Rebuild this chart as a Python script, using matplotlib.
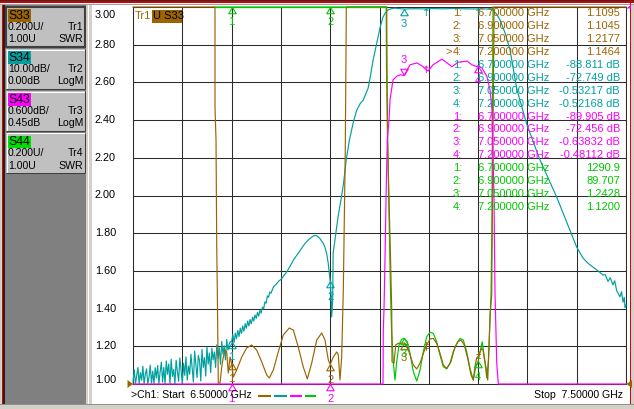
import numpy as np
import matplotlib
matplotlib.use("Agg")
import matplotlib.pyplot as plt
from matplotlib.patches import Rectangle, Polygon
from matplotlib.lines import Line2D
from matplotlib.path import Path
from matplotlib.markers import MarkerStyle

plt.rcParams['font.family'] = ['Liberation Sans', 'DejaVu Sans']

# ---------------- data ----------------
start_ghz, stop_ghz = 6.5, 7.5
swr_tick_values = [3.00, 2.80, 2.60, 2.40, 2.20, 2.00, 1.80, 1.60, 1.40, 1.20, 1.00]

trace_names = ["S33", "S34", "S43", "S44"]
trace_ids = ["Tr1", "Tr2", "Tr3", "Tr4"]
trace_formats = ["SWR", "LogM", "LogM", "SWR"]
scale_labels = ["0.200U/", "10.00dB/", "0.600dB/", "0.200U/"]
ref_labels = ["1.00U", "0.00dB", "0.45dB", "1.00U"]
per_div = [0.2, 10.0, 0.6, 0.2]
ref_value = [1.00, 0.00, 0.45, 1.00]
ref_pos_div = [0, 10, 10, 0]

# S33 (SWR)
s33_freq = [6.5000, 6.6663, 6.6663, 6.6684, 6.6690, 6.6698, 6.6710, 6.6730, 6.6765, 6.6800,
            6.6832, 6.6866, 6.6900, 6.6933, 6.6968, 6.7000, 6.7035, 6.7103, 6.7205, 6.7306,
            6.7408, 6.7509, 6.7611, 6.7712, 6.7765, 6.7846, 6.7947, 6.8049, 6.8171, 6.8252,
            6.8353, 6.8454, 6.8536, 6.8625, 6.8726, 6.8828, 6.8895, 6.8962, 6.9000, 6.9063,
            6.9132, 6.9164, 6.9199, 6.9233, 6.9266, 6.9286, 6.9306, 6.9327, 7.0146, 7.0162,
            7.0193, 7.0223, 7.0248, 7.0254, 7.0294, 7.0329, 7.0381, 7.0436, 7.0500, 7.0552,
            7.0619, 7.0686, 7.0755, 7.0822, 7.0889, 7.0958, 7.1024, 7.1091, 7.1160, 7.1227,
            7.1294, 7.1363, 7.1430, 7.1497, 7.1586, 7.1653, 7.1720, 7.1789, 7.1856, 7.1903,
            7.1937, 7.1972, 7.2000, 7.2073, 7.2100, 7.2126, 7.2175, 7.2195, 7.2221, 7.2242,
            7.2276, 7.2308, 7.2323, 7.5000]
s33_swr = [40, 40, 2.469, 2.294, 2.056, 1.737, 1.499, 1.005, 1.005, 1.090,
           1.143, 1.180, 1.170, 1.058, 1.143, 1.1095, 1.037, 1.074, 1.143, 1.191,
           1.207, 1.180, 1.117, 1.048, 1.032, 1.074, 1.170, 1.260, 1.297, 1.286,
           1.196, 1.090, 1.027, 1.111, 1.233, 1.271, 1.233, 1.127, 1.1045, 1.143,
           1.170, 1.154, 1.021, 1.143, 1.499, 1.870, 2.241, 40, 40, 2.294,
           1.976, 1.674, 1.393, 1.117, 1.110, 1.207, 1.216, 1.216, 1.2177, 1.207,
           1.154, 1.101, 1.080, 1.110, 1.163, 1.207, 1.239, 1.242, 1.216, 1.163,
           1.101, 1.083, 1.110, 1.171, 1.224, 1.233, 1.207, 1.136, 1.048, 1.021,
           1.092, 1.140, 1.1464, 1.190, 1.180, 1.136, 1.065, 1.021, 1.189, 1.366,
           1.472, 2.5, 40, 40]

# S44 (SWR)
s44_freq = [6.6663, 6.7000, 6.9000, 7.0136, 7.0142, 7.0166, 7.0223, 7.0244, 7.0280, 7.0314,
            7.0349, 7.0396, 7.0450, 7.0500, 7.0564, 7.0619, 7.0686, 7.0755, 7.0822, 7.0889,
            7.0958, 7.1024, 7.1091, 7.1160, 7.1227, 7.1294, 7.1363, 7.1450, 7.1531, 7.1633,
            7.1700, 7.1769, 7.1836, 7.1903, 7.1952, 7.2000, 7.2083, 7.2140, 7.2175, 7.2207,
            7.2242, 7.2262, 7.2282, 7.2302]
s44_swr = [1290.0, 1290.9, 89.707, 40, 2.676, 2.294, 1.488, 1.286, 1.118, 1.021,
           1.118, 1.207, 1.237, 1.2428, 1.224, 1.163, 1.065, 1.016, 1.074, 1.171,
           1.251, 1.274, 1.269, 1.224, 1.154, 1.092, 1.080, 1.118, 1.198, 1.242,
           1.233, 1.171, 1.083, 1.021, 1.092, 1.1200, 1.224, 1.118, 1.032, 1.118,
           1.339, 1.472, 1.9, 40]

# S34 (dB) - noisy floor sampled every 2.5 MHz from 6.5 GHz, then explicit points
s34_noise_start = 6.5
s34_noise_step = 0.0025
s34_noise_db = [-99.5, -96.2, -100.5, -97.8, -95.6, -101, -97.0, -99, -95.3, -100.2,
                -97.4, -96.0, -101, -98.2, -95.0, -99.8, -96.6, -100.4, -95.7, -98.4,
                -95.1, -100.6,
                -96.8, -94.2, -99.5, -95.6, -100.3, -93.9, -97.4, -94.7, -99.9, -93.4,
                -98.0, -96.1, -100.1, -93.7, -96.7, -99.3, -93.1, -96.3, -100.2, -94.5,
                -97.7, -92.8, -99.0, -95.2,
                -97.4, -92.1, -95.9, -99.5, -91.3, -94.8, -98.3, -92.4, -93.9, -99.2,
                -90.8, -95.6, -93.0, -97.9, -90.2, -94.7, -91.8, -97.0, -90.5, -93.6,
                -91.5, -95.6, -89.6, -93.2, -90.4, -94.8, -88.7, -92.1, -89.9, -93.6,
                -88.2, -91.0, -89.4, -88.8]
s34_freq = [6.7000, 6.7025, 6.7050, 6.7075, 6.7100, 6.7125, 6.7150, 6.7175, 6.7200, 6.7225,
            6.7250, 6.7275, 6.7300, 6.7325, 6.7350, 6.7375, 6.7400, 6.7425, 6.7450, 6.7475,
            6.7500, 6.7525, 6.7550, 6.7575, 6.7600, 6.7625, 6.7650, 6.7675, 6.7700, 6.7725,
            6.7750, 6.7775, 6.7800, 6.7850, 6.7900, 6.7950, 6.8020, 6.8060, 6.8100, 6.8140,
            6.8180, 6.8260, 6.8350, 6.8420, 6.8490, 6.8570, 6.8660, 6.8720, 6.8790, 6.8850,
            6.8890, 6.8930, 6.8960, 6.9000, 6.9020, 6.9030, 6.9050, 6.9060, 6.9110, 6.9160,
            6.9220, 6.9270, 6.9330, 6.9390, 6.9470, 6.9540, 6.9610, 6.9670, 6.9770, 6.9820,
            6.9870, 6.9920, 6.9970, 7.0020, 7.0070, 7.0120, 7.0170, 7.0240, 7.0310, 7.0500,
            7.0700, 7.0900, 7.1100, 7.1300, 7.1500, 7.1700, 7.2000, 7.2150, 7.2250, 7.2300,
            7.2370, 7.2444, 7.2550, 7.2647, 7.2789, 7.2992, 7.3256, 7.3594, 7.3864, 7.4000,
            7.4128, 7.4231, 7.4331, 7.4433, 7.4533, 7.4580, 7.4635, 7.4680, 7.4736, 7.4770,
            7.4810, 7.4878, 7.4910, 7.4940, 7.4965, 7.4980, 7.5000]
s34_db = [-88.811, -86.9, -89.0, -86.5, -88.0, -85.8, -87.4, -85.2, -86.6, -84.6,
          -86.0, -84.0, -85.2, -83.3, -84.6, -82.9, -84.0, -82.3, -83.3, -81.7,
          -82.6, -81.0, -82.0, -80.5, -81.2, -79.6, -80.1, -78.2, -78.6, -76.6,
          -77.0, -75.6, -75.9, -74.2, -73.6, -72.8, -72.0, -71.2, -70.6, -69.8,
          -68.9, -67.0, -65.3, -64.0, -62.7, -61.6, -60.7, -60.6, -61.4, -62.5,
          -63.6, -65.5, -68.0, -72.749, -76.8, -82.2, -77.7, -65.3, -60.5, -55.6,
          -51.0, -46.8, -40.1, -35.3, -30.5, -27.3, -25.6, -24.7, -21.5, -18.0,
          -14.1, -11.0, -8.0, -5.0, -2.7, -1.5, -0.8, -0.45, -0.3, -0.53217,
          -0.45, -0.5, -0.42, -0.48, -0.4, -0.47, -0.52168, -0.5, -0.6, -0.8,
          -1.8, -3.4, -7.0, -11.4, -22.0, -31.3, -40.6, -50.4, -59.2, -63.7,
          -66.6, -68.0, -69.0, -70.0, -71.1, -71.0, -72.8, -71.8, -73.7, -72.6,
          -75.2, -76.9, -75.5, -78.3, -77.0, -79.8, -79.0]

# S43 (dB)
s43_freq = [6.5, 6.6, 6.7, 6.8, 6.9, 6.95, 7.0, 7.0071, 7.0077, 7.0091,
            7.0111, 7.0132, 7.0158, 7.0193, 7.0213, 7.0274, 7.0355, 7.0416, 7.05, 7.0619,
            7.0761, 7.0883, 7.0984, 7.1085, 7.1268, 7.1369, 7.1471, 7.1592, 7.1775, 7.1876,
            7.1978, 7.2, 7.2079, 7.2181, 7.2242, 7.2282, 7.2323, 7.2343, 7.2378, 7.241,
            7.3, 7.5]
s43_db = [-98, -95, -89.905, -73, -72.456, -40, -12, -6.0, -4.69, -4.37,
          -3.58, -2.62, -1.67, -1.35, -1.03, -0.71, -0.65, -0.63, -0.63832, -0.47,
          -0.44, -0.50, -0.57, -0.47, -0.38, -0.44, -0.50, -0.43, -0.41, -0.47,
          -0.50, -0.48112, -0.52, -0.66, -0.87, -1.19, -2.62, -4.10, -5.22, -6.0,
          -30, -80]

# markers
marker_freq = [6.7, 6.9, 7.05, 7.2]
s33_marker_val = [1.1095, 1.1045, 1.2177, 1.1464]
s34_marker_val = [-88.811, -72.749, -0.53217, -0.52168]
s43_marker_val = [-89.905, -72.456, -0.63832, -0.48112]
s44_marker_val = [1290.9, 89.707, 1.2428, 1.1200]
aux_marker_freq = 7.095
active_trace = 0
active_marker = 3

# ---------------- style ----------------
BROWN = '#9c6400'
CYAN = '#00a0a0'
MAGENTA = '#ff00ff'
GREEN = '#00c800'
GREEN_BOX = '#00dd00'
GRID = '#2b2b2b'
trace_colors = [BROWN, CYAN, MAGENTA, GREEN]
box_colors = [BROWN, CYAN, MAGENTA, GREEN_BOX]

W, H = 634, 409
fig = plt.figure(figsize=(W / 100, H / 100), dpi=100)
fig.patch.set_facecolor('#d4d0c8')


def fx(x):
    return x / W


def fy(y):
    return 1 - y / H


def frect(x0, y0, x1, y1, fc, z=0, ec='none', lw=0):
    fig.add_artist(Rectangle((fx(x0), fy(y1)), (x1 - x0) / W, (y1 - y0) / H,
                             transform=fig.transFigure, facecolor=fc,
                             edgecolor=ec, linewidth=lw, zorder=z))


def fline(x0, y0, x1, y1, color, lw=0.75, z=1):
    fig.add_artist(Line2D([fx(x0), fx(x1)], [fy(y0), fy(y1)],
                          transform=fig.transFigure, color=color, lw=lw,
                          zorder=z, solid_capstyle='butt'))


def ftext(x, y, s, **kw):
    kw.setdefault('fontsize', 8)
    kw.setdefault('va', 'center')
    kw.setdefault('zorder', 5)
    fig.text(fx(x), fy(y), s, **kw)


def fpoly(pts, color, z=6):
    fig.add_artist(Polygon([(fx(a), fy(b)) for a, b in pts], closed=True,
                           transform=fig.transFigure, facecolor=color,
                           edgecolor='none', zorder=z))


# window background / borders
frect(92, 4, 629.5, 404, 'white', z=0)
frect(4, 4, 86, 404, '#808080', z=0)
frect(86, 4, 92, 404, '#d4d0c8', z=0)
frect(88, 4, 89, 404, '#ffffff', z=0)
frect(1.5, 0, 3, 404, '#e00000', z=0)
frect(3, 4, 4.5, 404, '#202020', z=0)
frect(0, 0, W, 1, '#303030', z=0)
frect(0, 1, W, 2.5, '#d00000', z=0)
frect(0, 2.5, W, 3.5, '#f4f4f4', z=0)
frect(0, 3.5, W, 4.5, '#a0a0a0', z=0)
frect(629.5, 0, 631, 404, '#e00000', z=0)
frect(0, 404, W, H, '#d4d0c8', z=0)
frect(0, 404, W, 405, '#909090', z=0)

# left trace buttons
for i in range(4):
    top = 7 + 42 * i
    frect(6, top, 85, top + 40, '#c0c0c0', z=1)
    if i == active_trace:
        frect(6, top, 85, top + 40, 'none', z=2, ec='#404040', lw=1.5)
    else:
        fline(6, top + 0.5, 85, top + 0.5, '#ffffff', z=2)
        fline(6.5, top, 6.5, top + 40, '#ffffff', z=2)
        fline(6, top + 39.5, 85, top + 39.5, '#404040', z=2)
        fline(84.5, top, 84.5, top + 40, '#404040', z=2)
    frect(7.5, top + 2.5, 31, top + 14.5, box_colors[i], z=2)
    ftext(8.5, top + 8.7, trace_names[i], fontsize=8.8, color='black')
    ftext(8, top + 20, scale_labels[i], fontsize=7.6)
    ftext(83, top + 20, trace_ids[i], fontsize=7.6, ha='right')
    ftext(8, top + 32.5, ref_labels[i], fontsize=7.6)
    ftext(83, top + 32.5, trace_formats[i], fontsize=7.6, ha='right')

# ---------------- grid axes ----------------
ax = fig.add_axes([fx(133), fy(384), 493 / W, 377 / H])
ax.set_facecolor('white')
ax.set_xlim(start_ghz, stop_ghz)
ax.set_ylim(min(swr_tick_values), max(swr_tick_values))
ax.set_xticks(np.linspace(start_ghz, stop_ghz, 11))
ax.set_yticks(swr_tick_values)
ax.tick_params(length=0, labelbottom=False, labelleft=False)
ax.grid(True, color=GRID, lw=0.75)
for sp in ax.spines.values():
    sp.set_color(GRID)
    sp.set_linewidth(0.75)

for v in swr_tick_values:
    dy = 0
    if v == max(swr_tick_values):
        dy = -5.5
    elif v == min(swr_tick_values):
        dy = 3
    ax.annotate(f"{v:.2f}", xy=(0, v), xycoords=('axes fraction', 'data'),
                xytext=(-12.3, dy), textcoords='offset points', ha='right',
                va='center', fontsize=7.8, annotation_clip=False)


def trace_axes(k, z):
    lo = ref_value[k] - ref_pos_div[k] * per_div[k]
    hi = ref_value[k] + (10 - ref_pos_div[k]) * per_div[k]
    a = ax.twinx()
    a.set_ylim(lo, hi)
    a.set_axis_off()
    a.set_zorder(z)
    return a, lo, hi


axc, c_lo, c_hi = trace_axes(1, 1)
axs, s_lo, s_hi = trace_axes(0, 2)
axm, m_lo, m_hi = trace_axes(2, 3)
for a in (axc, axs, axm):
    a.set_xlim(start_ghz, stop_ghz)

# traces
s34_all_f = np.concatenate([s34_noise_start + s34_noise_step * np.arange(len(s34_noise_db)),
                            np.array(s34_freq)])
s34_all_db = np.concatenate([np.array(s34_noise_db), np.array(s34_db)])
axc.plot(s34_all_f, np.clip(s34_all_db, c_lo, c_hi), color=CYAN, lw=0.85, clip_on=False)

s44_f = np.array(s44_freq)
s44_y = np.clip(s44_swr, s_lo, s_hi)
axs.plot(s44_f, s44_y, color=GREEN, lw=0.85, clip_on=False)
axs.plot(s33_freq, np.clip(s33_swr, s_lo, s_hi), color=BROWN, lw=0.85, clip_on=False)
# S44 off-scale (top) section is drawn over S33
top_part = s44_f <= 7.0137
axs.plot(s44_f[top_part], s44_y[top_part], color=GREEN, lw=0.85, clip_on=False)

axm.plot(s43_freq, np.clip(s43_db, m_lo, m_hi), color=MAGENTA, lw=0.85, clip_on=False)

TRI_UP = MarkerStyle(Path([(0, 0), (-0.6, -1), (0.6, -1), (0, 0)],
                          [Path.MOVETO, Path.LINETO, Path.LINETO, Path.CLOSEPOLY]))
TRI_DN = MarkerStyle(Path([(0, 0), (-0.6, 1), (0.6, 1), (0, 0)],
                          [Path.MOVETO, Path.LINETO, Path.LINETO, Path.CLOSEPOLY]))


def mark(a, f, y, color, label, down=False):
    a.plot([f], [y], ls='none', marker=TRI_DN if down else TRI_UP, ms=9,
           mfc='none', mec=color, mew=0.8, clip_on=False)
    if label:
        a.annotate(label, xy=(f, y), xytext=(0, 7.5 if down else -7.5),
                   textcoords='offset points', ha='center',
                   va='bottom' if down else 'top', fontsize=8, color=color,
                   annotation_clip=False)


def glyph(a, f, y, color, s):
    a.annotate(s, xy=(f, y), xytext=(0, 0), textcoords='offset points',
               ha='center', va='center', fontsize=7.5, color=color,
               family='DejaVu Sans', annotation_clip=False)


# S33 markers
for k in range(4):
    y = float(np.clip(s33_marker_val[k], s_lo, s_hi))
    if k == active_marker:
        glyph(axs, marker_freq[k], y, BROWN, '‡')
    else:
        mark(axs, marker_freq[k], y, BROWN, str(k + 1))
glyph(axs, aux_marker_freq, float(np.interp(aux_marker_freq, s33_freq, s33_swr)), BROWN, '‡')

# S34 markers
for k in range(4):
    y = float(np.clip(s34_marker_val[k], c_lo, c_hi))
    if k == 3:
        glyph(axc, marker_freq[k], y - 1.0, CYAN, '↑')
    else:
        mark(axc, marker_freq[k], y, CYAN, str(k + 1))
glyph(axc, aux_marker_freq, float(np.interp(aux_marker_freq, s34_freq, s34_db)) - 1.0, CYAN, '↑')

# S43 markers
for k in range(4):
    y = float(np.clip(s43_marker_val[k], m_lo, m_hi))
    mark(axm, marker_freq[k], y, MAGENTA, str(k + 1), down=(k == 2))
glyph(axm, aux_marker_freq, float(np.interp(aux_marker_freq, s43_freq, s43_db)), MAGENTA, '↑')

# S44 markers
for k in range(4):
    y = float(np.clip(s44_marker_val[k], s_lo, s_hi))
    mark(axs, marker_freq[k], y, GREEN, str(k + 1))

# reference position indicators
fpoly([(127.5, 380), (133, 384), (127.5, 388)], BROWN)
fpoly([(632, 380), (626.5, 384), (632, 388)], BROWN)
fpoly([(631, 4.5), (626.5, 8.5), (631, 8.5)], MAGENTA)

# trace label top-left
ftext(135, 16, "Tr1", color=BROWN, fontsize=8)
frect(151.5, 9.5, 181.5, 22.5, BROWN, z=4)
ftext(153, 16, "U " + trace_names[0], color='black', fontsize=8)

# marker table
all_vals = [s33_marker_val, s34_marker_val, s43_marker_val, s44_marker_val]
row = 0
for t in range(4):
    for k in range(4):
        y = 13.3 + 12.9 * row
        c = trace_colors[t]
        if t == active_trace and k == active_marker:
            ftext(446, y, ">", color=c, fontsize=8)
        ftext(462, y, f"{k + 1}:", color=c, fontsize=8, ha='right')
        ftext(478, y, f"{marker_freq[k]:.6f} GHz", color=c, fontsize=8)
        v = all_vals[t][k]
        unit = " dB" if trace_formats[t] == "LogM" else ""
        ftext(620, y, f"{v:#.5g}{unit}", color=c, fontsize=8, ha='right')
        row += 1

# status bar
ftext(131, 395.5, f">Ch1: Start  {start_ghz:.5f} GHz", fontsize=7.6)
dash_x = [(257.5, 271), (273.5, 287), (289.5, 302), (304.5, 316)]
for (x0, x1), c in zip(dash_x, trace_colors):
    fline(x0, 395.5, x1, 395.5, c, lw=1.5, z=5)
ftext(623, 395.5, f"Stop  {stop_ghz:.5f} GHz", fontsize=7.6, ha='right')

fig.savefig("out.png", dpi=100, facecolor=fig.get_facecolor())
